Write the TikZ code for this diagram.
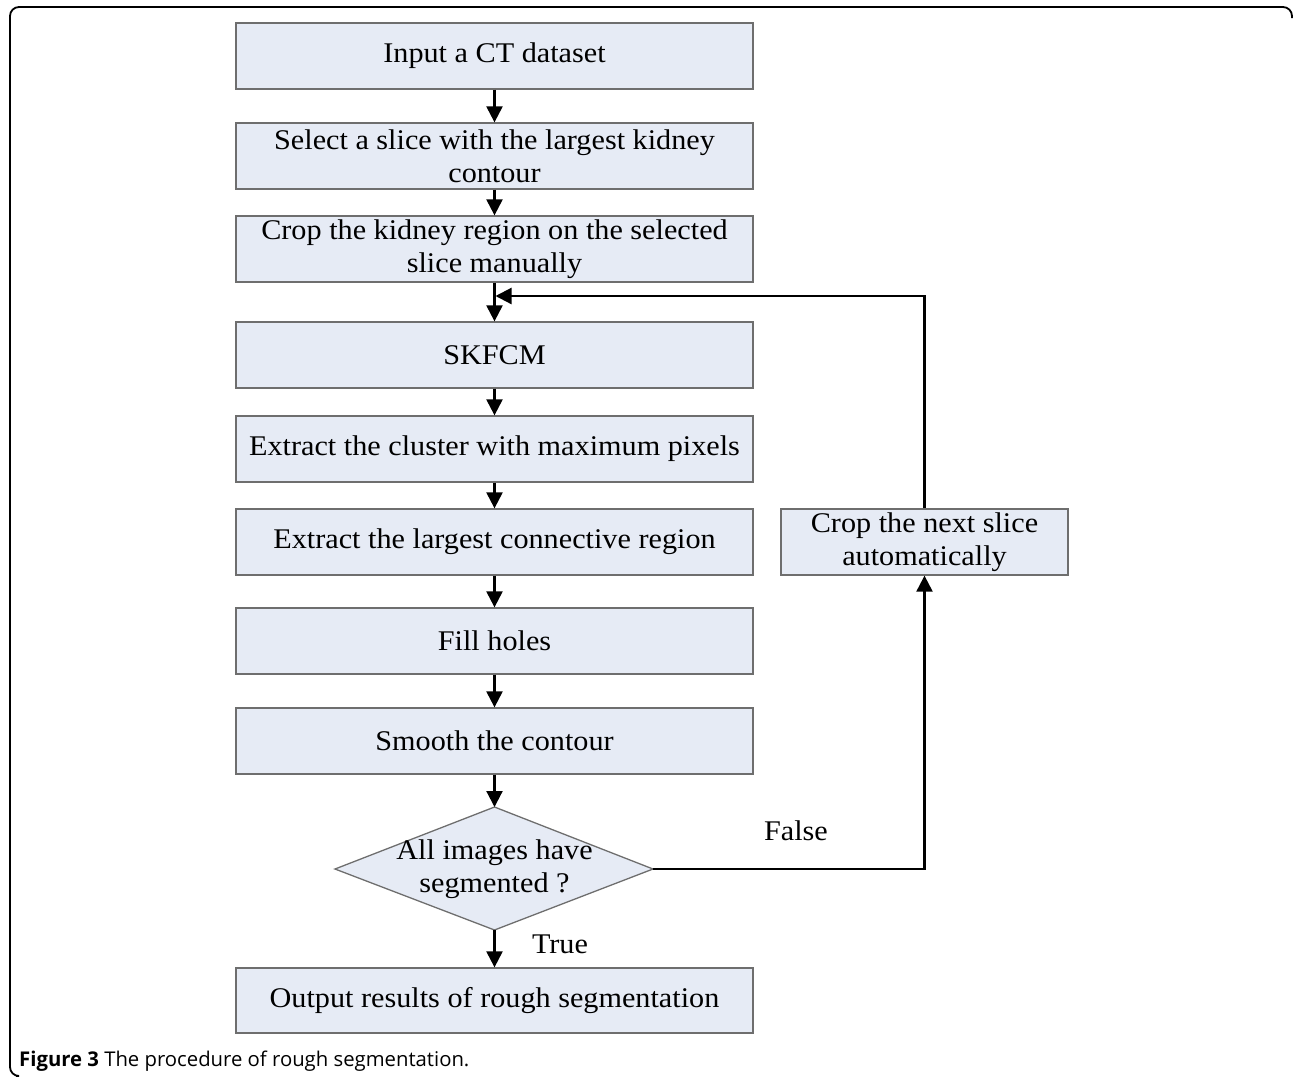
\documentclass[tikz,border=0pt]{standalone}
\usepackage{fontspec}
\setmainfont{Liberation Serif}[FakeStretch=1.06]
\newfontfamily\capfont{Open Sans}
\usetikzlibrary{arrows.meta}
\definecolor{boxfill}{HTML}{E6EBF5}
\definecolor{boxline}{HTML}{6E6E6E}
\tikzset{
  procbox/.style={draw=boxline, line width=1.3pt, fill=boxfill, rectangle,
    minimum height=66pt, inner sep=0pt, align=center,
    font=\fontsize{28.5}{33}\selectfont},
  flow/.style={line width=2.2pt, -{Triangle[length=16pt,width=16pt]}},
  lbl/.style={font=\fontsize{28.5}{33}\selectfont, inner sep=0pt}
}
\begin{document}
\begin{tikzpicture}[x=1pt,y=-1pt]
\useasboundingbox (0,0) rectangle (1293,1077);
% frame
\draw[line width=1.8pt, rounded corners=9pt] (16,1076) -- (10,1076) -- (10,7) -- (1292,7) -- (1292,18);
% boxes
\node[procbox, minimum width=517pt] (b1) at (494.5,56) {Input a CT dataset};
\node[procbox, minimum width=517pt] (b2) at (494.5,156) {Select a slice with the largest kidney\\contour};
\node[procbox, minimum width=517pt] (b3) at (494.5,249) {Crop the kidney region on the selected\\slice manually};
\node[procbox, minimum width=517pt] (b4) at (494.5,355) {SKFCM};
\node[procbox, minimum width=517pt] (b5) at (494.5,449) {Extract the cluster with maximum pixels};
\node[procbox, minimum width=517pt] (b6) at (494.5,542) {Extract the largest connective region};
\node[procbox, minimum width=517pt] (b7) at (494.5,641) {Fill holes};
\node[procbox, minimum width=517pt] (b8) at (494.5,741) {Smooth the contour};
\node[procbox, minimum width=517pt, minimum height=65pt] (b9) at (494.5,1000.5) {Output results of rough segmentation};
\node[procbox, minimum width=287pt] (crop) at (924.5,542) {Crop the next slice\\automatically};
% diamond
\coordinate (dt) at (494.5,807);
\coordinate (dr) at (653,869);
\coordinate (db) at (494.5,930);
\coordinate (dl) at (335,869);
\draw[draw=boxline, line width=1.3pt, fill=boxfill] (dt) -- (dr) -- (db) -- (dl) -- cycle;
\node[lbl, align=center] (dtext) at (494.5,869) {All images have\\segmented ?};
% arrows
\draw[flow] (b1.south) -- (b2.north);
\draw[flow] (b2.south) -- (b3.north);
\draw[flow] (b3.south) -- (b4.north);
\draw[flow] (b4.south) -- (b5.north);
\draw[flow] (b5.south) -- (b6.north);
\draw[flow] (b6.south) -- (b7.north);
\draw[flow] (b7.south) -- (b8.north);
\draw[flow] (b8.south) -- (dt);
\draw[flow] (db) -- (b9.north);
\draw[flow] (dr) -| (crop.south);
\coordinate (join) at (495.5,296);
\draw[flow] (crop.north) |- (join);
% labels
\node[lbl] (lfalse) at (796,831) {False};
\node[lbl] (ltrue) at (560,944) {True};
% caption
\node[anchor=base west, inner sep=0pt, font=\capfont\fontsize{20.3}{24}\selectfont] (cap) at (19,1066) {\textbf{Figure 3} The procedure of rough segmentation.};
\end{tikzpicture}
\end{document}
